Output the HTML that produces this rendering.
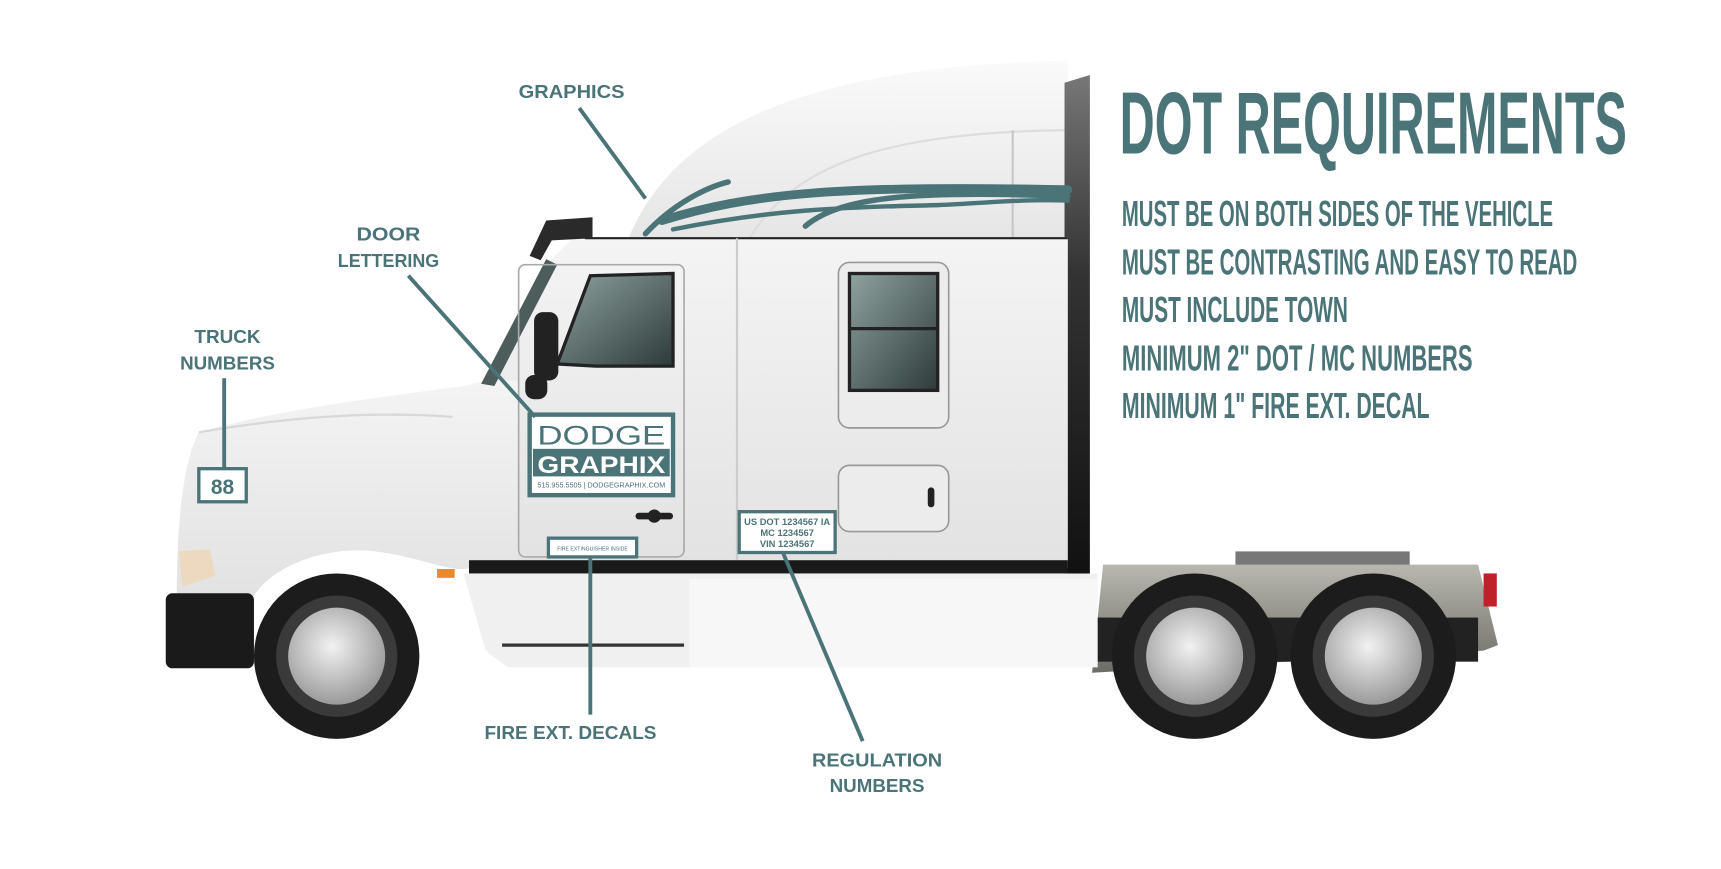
<!DOCTYPE html>
<html><head><meta charset="utf-8"><style>html,body{margin:0;padding:0;background:#fff}svg{display:block}</style></head>
<body>
<svg width="1721" height="869" viewBox="0 0 1560 788" xmlns="http://www.w3.org/2000/svg" font-family="Liberation Sans, sans-serif">
<defs>
<linearGradient id="body" x1="0" y1="0" x2="0" y2="1"><stop offset="0" stop-color="#f4f4f4"/><stop offset="1" stop-color="#e2e2e2"/></linearGradient>
<linearGradient id="roof" x1="0" y1="0" x2="0" y2="1"><stop offset="0" stop-color="#fafafa"/><stop offset="1" stop-color="#e6e6e6"/></linearGradient>
<linearGradient id="rear" x1="0" y1="0" x2="0" y2="1"><stop offset="0" stop-color="#777"/><stop offset="0.4" stop-color="#333"/><stop offset="1" stop-color="#111"/></linearGradient>
<linearGradient id="win" x1="0" y1="0" x2="1" y2="1"><stop offset="0" stop-color="#8fa3a0"/><stop offset="1" stop-color="#2d3b3a"/></linearGradient>
<radialGradient id="hub" cx="0.45" cy="0.4" r="0.6"><stop offset="0" stop-color="#f2f2f2"/><stop offset="1" stop-color="#9a9a9a"/></radialGradient>
<linearGradient id="fender" x1="0" y1="0" x2="0" y2="1"><stop offset="0" stop-color="#b8b8b0"/><stop offset="1" stop-color="#6c6c66"/></linearGradient>
</defs>
<rect width="1560" height="788" fill="#fff"/>
<!-- rear chassis -->
<rect x="1120" y="500" width="158" height="14" fill="#777"/>
<path d="M1000 512 L1340 512 L1358 585 L1345 590 L990 610 Z" fill="url(#fender)"/>
<rect x="1345" y="520" width="12" height="30" fill="#c0202a"/>
<rect x="990" y="560" width="350" height="40" fill="#222"/>
<!-- wheels -->
<g>
<circle cx="305" cy="595" r="75" fill="#1c1c1c"/><circle cx="305" cy="595" r="55" fill="#3a3a3a"/><circle cx="305" cy="595" r="44" fill="url(#hub)"/>
<circle cx="1083" cy="595" r="75" fill="#1c1c1c"/><circle cx="1083" cy="595" r="55" fill="#3a3a3a"/><circle cx="1083" cy="595" r="44" fill="url(#hub)"/>
<circle cx="1245" cy="595" r="75" fill="#1c1c1c"/><circle cx="1245" cy="595" r="55" fill="#3a3a3a"/><circle cx="1245" cy="595" r="44" fill="url(#hub)"/>
</g>
<!-- roof fairing -->
<path d="M570 215 C610 120 720 60 968 55 L968 215 Z" fill="url(#roof)"/>
<path d="M680 215 C720 150 800 120 968 118" fill="none" stroke="#ddd" stroke-width="2"/>
<line x1="918" y1="118" x2="918" y2="512" stroke="#c8c8c8" stroke-width="2"/>
<!-- rear dark edge -->
<path d="M965 75 L988 68 L988 520 L965 520 Z" fill="url(#rear)"/>
<!-- cab body -->
<path d="M520 215 L968 215 L968 515 L440 515 L440 345 L500 235 Z" fill="url(#body)"/>
<line x1="530" y1="216" x2="968" y2="216" stroke="#222" stroke-width="2"/>
<line x1="668" y1="216" x2="668" y2="520" stroke="#ccc" stroke-width="2"/>
<!-- hood -->
<path d="M440 345 L420 350 C330 362 250 372 180 392 C165 420 160 480 160 540 L230 540 C250 510 300 495 340 500 C380 505 410 520 425 515 L470 515 L470 345 Z" fill="url(#body)"/>
<path d="M180 392 C250 380 330 372 410 378" fill="none" stroke="#d8d8d8" stroke-width="2"/>
<path d="M162 500 L190 498 L195 522 L165 532 Z" fill="#ecd9bf"/>
<rect x="396" y="516" width="16" height="8" fill="#e8892c"/>
<rect x="150" y="538" width="80" height="68" rx="6" fill="#1a1a1a"/>
<!-- lower skirt -->
<path d="M420 520 L995 520 L995 605 L460 605 L440 590 Z" fill="#f0f0f0"/>
<path d="M625 525 L995 525 L995 605 L625 605 Z" fill="#f7f7f7"/>
<path d="M455 585 L620 585" stroke="#333" stroke-width="3"/>
<!-- black stripe -->
<rect x="425" y="508" width="543" height="12" fill="#1a1a1a"/>
<!-- windshield / exhaust -->
<path d="M436 348 L495 235 L505 240 L448 350 Z" fill="#4c5d5b"/>
<path d="M480 232 L495 200 L537 197 L537 216 L500 218 L490 236 Z" fill="#2a2a2a"/>
<!-- door -->
<rect x="470" y="240" width="150" height="265" rx="6" fill="none" stroke="#aaa" stroke-width="1.5"/>
<path d="M505 330 L535 250 L610 248 L610 332 L540 332 Z" fill="url(#win)" stroke="#222" stroke-width="3"/>
<rect x="484" y="283" width="22" height="62" rx="8" fill="#222"/>
<rect x="476" y="340" width="20" height="22" rx="8" fill="#222"/>
<rect x="576" y="465" width="34" height="6" rx="3" fill="#222"/><circle cx="593" cy="468" r="6" fill="#222"/>
<!-- sleeper window -->
<rect x="760" y="238" width="100" height="150" rx="10" fill="#ececec" stroke="#999" stroke-width="1.5"/>
<rect x="770" y="248" width="80" height="106" fill="url(#win)" stroke="#222" stroke-width="3"/>
<line x1="770" y1="298" x2="850" y2="298" stroke="#222" stroke-width="3"/>
<rect x="760" y="422" width="100" height="60" rx="10" fill="#ececec" stroke="#999" stroke-width="1.5"/>
<rect x="841" y="442" width="6" height="18" rx="3" fill="#222"/>
<!-- graphics swoosh -->
<g fill="none" stroke="#4a7478" stroke-linecap="round">
<path d="M585 212 C610 185 640 170 660 165" stroke-width="5"/>
<path d="M600 200 C680 175 760 168 968 172" stroke-width="8"/>
<path d="M610 208 C700 190 760 188 850 186 C880 185 930 180 968 182" stroke-width="4"/>
<path d="M730 205 C760 180 820 172 968 178" stroke-width="5"/>
</g>
<!-- decals -->
<g fill="#4a7478">
<rect x="480" y="376" width="130" height="73" fill="#fff" stroke="#4a7478" stroke-width="4"/>
<text x="545" y="403" font-size="24" text-anchor="middle" textLength="116" lengthAdjust="spacingAndGlyphs">DODGE</text>
<rect x="483" y="407" width="124" height="25"/>
<text x="545" y="429" font-size="22" font-weight="bold" fill="#fff" text-anchor="middle" textLength="116" lengthAdjust="spacingAndGlyphs">GRAPHIX</text>
<text x="545" y="442" font-size="7" text-anchor="middle" textLength="116" lengthAdjust="spacingAndGlyphs">515.955.5505 | DODGEGRAPHIX.COM</text>
<rect x="180" y="425" width="43" height="30" fill="#fff" stroke="#4a7478" stroke-width="3"/>
<text x="201.5" y="448" font-size="19" font-weight="bold" text-anchor="middle">88</text>
<rect x="497" y="488" width="80" height="17" fill="#fff" stroke="#4a7478" stroke-width="3"/>
<text x="537" y="499" font-size="5" text-anchor="middle" textLength="64" lengthAdjust="spacingAndGlyphs">FIRE EXTINGUISHER INSIDE</text>
<rect x="670" y="464" width="87" height="37" fill="#fff" stroke="#4a7478" stroke-width="3"/>
<text x="713.5" y="476" font-size="8.5" font-weight="bold" text-anchor="middle" textLength="78" lengthAdjust="spacingAndGlyphs">US DOT 1234567 IA</text>
<text x="713.5" y="486" font-size="8.5" font-weight="bold" text-anchor="middle">MC 1234567</text>
<text x="713.5" y="496" font-size="8.5" font-weight="bold" text-anchor="middle">VIN 1234567</text>
</g>
<!-- callout lines -->
<g stroke="#4a7478" stroke-width="3.5" fill="none">
<line x1="525" y1="98" x2="585" y2="180"/>
<line x1="370" y1="250" x2="485" y2="378"/>
<line x1="203" y1="343" x2="203" y2="425"/>
<line x1="535" y1="505" x2="535" y2="648"/>
<line x1="710" y1="502" x2="782" y2="672"/>
</g>
<!-- labels -->
<g fill="#4a7478" font-weight="bold" font-size="17" text-anchor="middle">
<text x="518" y="89" textLength="96" lengthAdjust="spacingAndGlyphs">GRAPHICS</text>
<text x="352" y="218" textLength="58" lengthAdjust="spacingAndGlyphs">DOOR</text>
<text x="352" y="242" textLength="92" lengthAdjust="spacingAndGlyphs">LETTERING</text>
<text x="206" y="311" textLength="60" lengthAdjust="spacingAndGlyphs">TRUCK</text>
<text x="206" y="335" textLength="86" lengthAdjust="spacingAndGlyphs">NUMBERS</text>
<text x="517" y="670" textLength="156" lengthAdjust="spacingAndGlyphs">FIRE EXT. DECALS</text>
<text x="795" y="695" textLength="118" lengthAdjust="spacingAndGlyphs">REGULATION</text>
<text x="795" y="718" textLength="86" lengthAdjust="spacingAndGlyphs">NUMBERS</text>
</g>
<!-- DOT requirements -->
<g fill="#4a7478" font-weight="bold">
<text x="1015" y="139" font-size="80" textLength="460" lengthAdjust="spacingAndGlyphs">DOT REQUIREMENTS</text>
<g font-size="33">
<text x="1017" y="205" textLength="391" lengthAdjust="spacingAndGlyphs">MUST BE ON BOTH SIDES OF THE VEHICLE</text>
<text x="1017" y="249" textLength="413" lengthAdjust="spacingAndGlyphs">MUST BE CONTRASTING AND EASY TO READ</text>
<text x="1017" y="292" textLength="205" lengthAdjust="spacingAndGlyphs">MUST INCLUDE TOWN</text>
<text x="1017" y="336" textLength="318" lengthAdjust="spacingAndGlyphs">MINIMUM 2" DOT / MC NUMBERS</text>
<text x="1017" y="379" textLength="279" lengthAdjust="spacingAndGlyphs">MINIMUM 1" FIRE EXT. DECAL</text>
</g>
</g>
</svg>
</body></html>
